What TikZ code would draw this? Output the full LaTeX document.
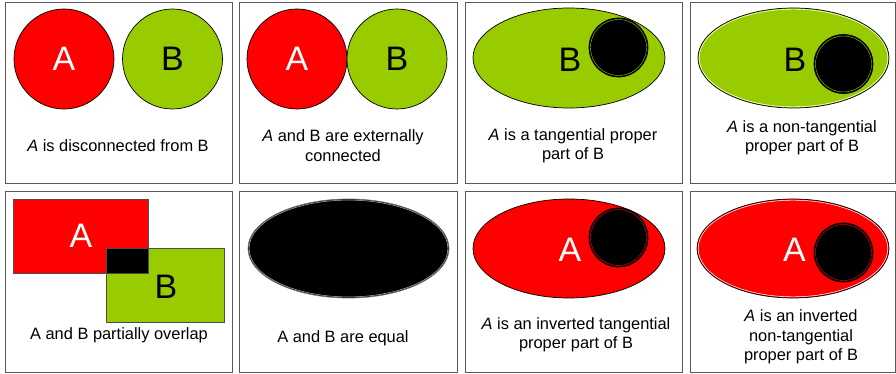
\documentclass[tikz,border=0pt]{standalone}
\usepackage{fontspec}
\setmainfont{Liberation Sans}
\usepackage{xcolor}
\usepackage{tikz}
\definecolor{rccred}{HTML}{FF0000}
\definecolor{rccgreen}{HTML}{99CC00}

\begin{document}
\begin{tikzpicture}[
  x=0.03cm, y=-0.03cm,
  panel/.style={draw=black!65, line width=0.8pt},
  rega/.style={fill=rccred, draw=black, line width=0.6pt},
  regb/.style={fill=rccgreen, draw=black, line width=0.6pt},
  both/.style={fill=black, draw=black, line width=0.6pt},
  rim/.style={draw=#1, line width=0.35pt},
  sheen/.style={draw=white, line width=0.45pt},
  letter/.style={font=\fontsize{29}{29}\selectfont, inner sep=0pt},
  caption/.style={align=center, font=\fontsize{14}{16.6}\selectfont, inner sep=0pt},
]
\useasboundingbox (0,0) rectangle (896,374);

\foreach \xa/\xb in {5/232, 239/457, 465/682, 690/895}{
  \draw[panel] (\xa,2) rectangle (\xb,183);
  \draw[panel] (\xa,191) rectangle (\xb,372);
}

% DC
\draw[rega] (64,59) circle (50);
\draw[regb] (172.5,59) circle (50);
\node[letter, white] (a1) at (64,59) {A};
\node[letter] (b1) at (172.5,59) {B};
\node[caption] (c1) at (118,146) {\textit{A} is disconnected from B};

% EC
\draw[rega] (297,59) circle (50);
\draw[regb] (397,59) circle (50);
\node[letter, white] (a2) at (297,59) {A};
\node[letter] (b2) at (397,59) {B};
\node[caption] (c2) at (343,145.5) {\textit{A} and B are externally\\connected};

% TPP
\draw[regb] (569,58) ellipse [x radius=96, y radius=50];
\draw[both] (618.5,47.5) circle (29.5);
\draw[rim=rccgreen] (618.5,47.5) circle (28);
\node[letter] (b3) at (570,60) {B};
\node[caption] (c3) at (573,146) {\textit{A} is a tangential proper\\part of B};

% NTPP
\draw[regb] (793.5,58) ellipse [x radius=95.5, y radius=50];
\draw[sheen] (793.5,58) ellipse [x radius=94.3, y radius=48.8];
\draw[both] (843.5,64) circle (29.5);
\draw[rim=rccgreen] (843.5,64) circle (28);
\node[letter] (b4) at (795,60) {B};
\node[caption] (c4) at (802,137.5) {\textit{A} is a non-tangential\\proper part of B};

% PO
\draw[rega, draw=black!70] (13,199) rectangle (148,273);
\draw[regb, draw=black!70] (106,248) rectangle (224,322);
\draw[both, draw=black!70] (106,248) rectangle (148,273);
\node[letter, white] (a5) at (81,236) {A};
\node[letter] (b5) at (166,287) {B};
\node[caption] (c5) at (119,335) {A and B partially overlap};

% EQ
\draw[both, draw=black!55] (348.5,248.5) ellipse [x radius=100.5, y radius=49.5];
\draw[sheen, draw=black!30] (348.5,248.5) ellipse [x radius=99.4, y radius=48.4];
\node[caption] (c6) at (343,338) {A and B are equal};

% TPPi
\draw[rega] (569,248.5) ellipse [x radius=96, y radius=49.5];
\draw[both] (618.5,237.5) circle (29.5);
\draw[rim=rccred] (618.5,237.5) circle (28);
\node[letter, white] (a7) at (570,250) {A};
\node[caption] (c7) at (576,335) {\textit{A} is an inverted tangential\\proper part of B};

% NTPPi
\draw[rega] (793,248.5) ellipse [x radius=96, y radius=49.5];
\draw[sheen] (793,248.5) ellipse [x radius=94.8, y radius=48.3];
\draw[both] (843.5,252.5) circle (29.5);
\draw[rim=rccred] (843.5,252.5) circle (28);
\node[letter, white] (a8) at (794.5,250) {A};
\node[caption] (c8) at (801,337) {\textit{A} is an inverted\\non-tangential\\proper part of B};

\end{tikzpicture}
\end{document}
